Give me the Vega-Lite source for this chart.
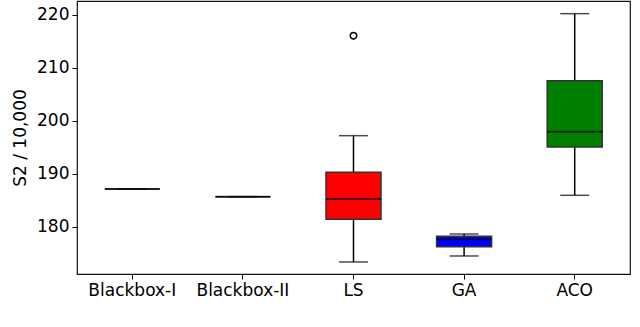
{
  "$schema": "https://vega.github.io/schema/vega-lite/v6.json",
  "width": 553,
  "height": 273,
  "autosize": {"type": "none"},
  "padding": {"left": 77, "top": 1, "right": 10, "bottom": 53},
  "config": {
    "font": "DejaVu Sans",
    "view": {"stroke": "#111", "strokeWidth": 1.2},
    "axis": {
      "domain": false,
      "grid": false,
      "labelFontSize": 17,
      "labelColor": "#000",
      "tickColor": "#000",
      "tickSize": 5,
      "tickWidth": 1,
      "labelPadding": 3,
      "titleFontSize": 17,
      "titleFontWeight": "normal",
      "titleColor": "#000"
    }
  },
  "datasets": {
    "boxes": [
      {"algo": "Blackbox-I", "min": 187.17, "q1": 187.17, "median": 187.17, "q3": 187.17, "max": 187.17, "fill": "#ffffff"},
      {"algo": "Blackbox-II", "min": 185.72, "q1": 185.72, "median": 185.72, "q3": 185.72, "max": 185.72, "fill": "#ffffff"},
      {"algo": "LS", "min": 173.4, "q1": 181.45, "median": 185.28, "q3": 190.32, "max": 197.23, "fill": "#ff0000"},
      {"algo": "GA", "min": 174.53, "q1": 176.28, "median": 177.67, "q3": 178.24, "max": 178.68, "fill": "#0000ff"},
      {"algo": "ACO", "min": 185.98, "q1": 195.1, "median": 197.98, "q3": 207.6, "max": 220.25, "fill": "#008000"}
    ],
    "outliers": [
      {"algo": "LS", "value": 216.1}
    ]
  },
  "encoding": {
    "x": {
      "field": "algo",
      "type": "nominal",
      "sort": ["Blackbox-I", "Blackbox-II", "LS", "GA", "ACO"],
      "scale": {"type": "band", "paddingInner": 0, "paddingOuter": 0},
      "axis": {"title": null, "labelAngle": 0}
    }
  },
  "layer": [
    {
      "data": {"name": "boxes"},
      "mark": {"type": "rule", "color": "#000", "strokeWidth": 1.5},
      "encoding": {
        "y": {
          "field": "min",
          "type": "quantitative",
          "scale": {"domain": [171.13, 222.64], "nice": false, "zero": false},
          "axis": {"title": "S2 / 10,000", "values": [180, 190, 200, 210, 220], "titlePadding": 7}
        },
        "y2": {"field": "max"}
      }
    },
    {
      "data": {"name": "boxes"},
      "mark": {"type": "tick", "color": "#000", "size": 29, "thickness": 1.5},
      "encoding": {"y": {"field": "min", "type": "quantitative"}}
    },
    {
      "data": {"name": "boxes"},
      "mark": {"type": "tick", "color": "#000", "size": 29, "thickness": 1.5},
      "encoding": {"y": {"field": "max", "type": "quantitative"}}
    },
    {
      "data": {"name": "boxes"},
      "mark": {"type": "bar", "size": 55, "stroke": "#333", "strokeWidth": 1.5},
      "encoding": {
        "y": {"field": "q1", "type": "quantitative"},
        "y2": {"field": "q3"},
        "fill": {"field": "fill", "type": "nominal", "scale": null}
      }
    },
    {
      "data": {"name": "boxes"},
      "mark": {"type": "tick", "color": "#000", "size": 55, "thickness": 2},
      "encoding": {"y": {"field": "median", "type": "quantitative"}}
    },
    {
      "data": {"name": "outliers"},
      "mark": {"type": "point", "shape": "circle", "filled": false, "stroke": "#000", "strokeWidth": 1.5, "size": 42, "opacity": 1},
      "encoding": {"y": {"field": "value", "type": "quantitative"}}
    }
  ]
}
